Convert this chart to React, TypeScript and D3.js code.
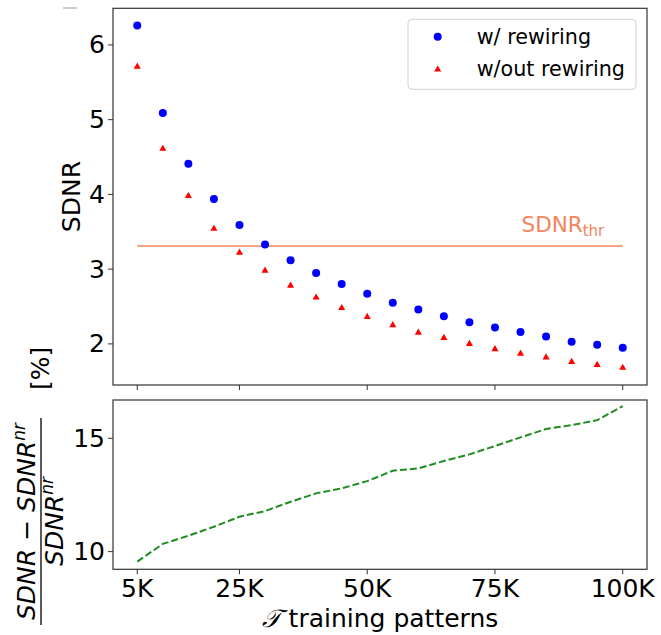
import React from "react";
import * as d3 from "d3";

const patterns = [5000, 10000, 15000, 20000, 25000, 30000, 35000, 40000, 45000, 50000, 55000, 60000, 65000, 70000, 75000, 80000, 85000, 90000, 95000, 100000];
const withRewiring = [6.26, 5.09, 4.41, 3.94, 3.59, 3.33, 3.12, 2.95, 2.8, 2.67, 2.55, 2.46, 2.37, 2.29, 2.22, 2.16, 2.1, 2.03, 1.99, 1.95];
const withoutRewiring = [5.71, 4.61, 3.98, 3.54, 3.22, 2.98, 2.78, 2.62, 2.48, 2.36, 2.25, 2.15, 2.08, 2.0, 1.93, 1.87, 1.82, 1.76, 1.72, 1.68];
const relGain = [9.56, 10.34, 10.7, 11.1, 11.54, 11.79, 12.2, 12.57, 12.79, 13.11, 13.57, 13.67, 14.0, 14.29, 14.66, 15.04, 15.41, 15.58, 15.8, 16.42];
const sdnrThr = 3.31;
const xTicks = [5000, 25000, 50000, 75000, 100000];
const xTickLabels = ["5K", "25K", "50K", "75K", "100K"];
const topYTicks = [2, 3, 4, 5, 6];
const botYTicks = [10, 15];
const legendLabels = ["w/ rewiring", "w/out rewiring"];

const FONT = "DejaVu Sans, sans-serif";
const AX = "#333";

export default function App() {
  const x = d3.scaleLinear().domain([250, 104750]).range([113, 647]);
  const yTop = d3.scaleLinear().domain([1.45, 6.49]).range([385, 8.3]);
  const yBot = d3.scaleLinear().domain([9.22, 16.69]).range([569.3, 400]);

  const gainLine = d3
    .line<number>()
    .x((_, i) => x(patterns[i]))
    .y((d) => yBot(d));

  const tri = d3.symbol().type(d3.symbolTriangle).size(22)();

  const topL = 113, topR = 647, topT = 8.3, topB = 385;
  const botT = 400, botB = 569.3;

  return (
    <svg width={661} height={635} style={{ position: "absolute", left: 0, top: 0, background: "#fff" }} fontFamily={FONT}>
      <rect x={0} y={0} width={661} height={635} fill="#fff" />
      <line x1={63} x2={77} y1={8} y2={8} stroke="#bbb" strokeWidth={1.5} />

      {/* top panel */}
      <line x1={x(patterns[0])} x2={x(patterns[patterns.length - 1])} y1={yTop(sdnrThr)} y2={yTop(sdnrThr)} stroke="#f4845c" strokeWidth={1.6} />
      <text x={521.5} y={231.7} fontSize={21.5} fill="#f4845c">
        SDNR<tspan fontSize={15} dy={4}>thr</tspan>
      </text>
      {withRewiring.map((v, i) => (
        <circle key={"b" + i} cx={x(patterns[i])} cy={yTop(v)} r={4} fill="#0000ff" />
      ))}
      {withoutRewiring.map((v, i) => (
        <path key={"r" + i} d={tri} transform={`translate(${x(patterns[i])},${yTop(v)})`} fill="#ff0000" />
      ))}
      <rect x={topL} y={topT} width={topR - topL} height={topB - topT} fill="none" stroke={AX} strokeWidth={1.2} />
      {topYTicks.map((t) => (
        <g key={"ty" + t}>
          <line x1={topL - 5} x2={topL} y1={yTop(t)} y2={yTop(t)} stroke={AX} strokeWidth={1} />
          <text x={topL - 8} y={yTop(t)} fontSize={25} textAnchor="end" dominantBaseline="central" fill="#000">{t}</text>
        </g>
      ))}
      {xTicks.map((t) => (
        <line key={"tx" + t} x1={x(t)} x2={x(t)} y1={topB} y2={topB + 5} stroke={AX} strokeWidth={1} />
      ))}
      <text transform={`translate(80,196.6) rotate(-90)`} fontSize={25} textAnchor="middle" fill="#000">SDNR</text>

      {/* legend */}
      <rect x={408} y={19.3} width={228} height={70} rx={4} fill="#fff" fillOpacity={0.8} stroke="#d0d0d0" strokeWidth={1} />
      <circle cx={437.7} cy={36.7} r={4} fill="#0000ff" />
      <path d={tri} transform="translate(437.7,69.5)" fill="#ff0000" />
      <text x={476.7} y={43.5} fontSize={20.7} fill="#000">{legendLabels[0]}</text>
      <text x={476.7} y={76} fontSize={20.7} fill="#000">{legendLabels[1]}</text>

      {/* bottom panel */}
      <path d={gainLine(relGain) || ""} fill="none" stroke="#1e8c1e" strokeWidth={2} strokeDasharray="7,3" />
      <rect x={topL} y={botT} width={topR - topL} height={botB - botT} fill="none" stroke={AX} strokeWidth={1.2} />
      {botYTicks.map((t) => (
        <g key={"by" + t}>
          <line x1={topL - 5} x2={topL} y1={yBot(t)} y2={yBot(t)} stroke={AX} strokeWidth={1} />
          <text x={topL - 8} y={yBot(t)} fontSize={25} textAnchor="end" dominantBaseline="central" fill="#000">{t}</text>
        </g>
      ))}
      {xTicks.map((t, i) => (
        <g key={"bx" + t}>
          <line x1={x(t)} x2={x(t)} y1={botB} y2={botB + 5} stroke={AX} strokeWidth={1} />
          <text x={x(t)} y={597} fontSize={25} textAnchor="middle" fill="#000">{xTickLabels[i]}</text>
        </g>
      ))}
      <text x={380} y={627} fontSize={25} textAnchor="middle" fill="#000">
        <tspan fontStyle="italic" fontFamily="DejaVu Serif, serif">𝒯</tspan> training patterns
      </text>

      {/* bottom y label (rotated fraction) */}
      <g transform="translate(41,484) rotate(-90)">
        <text x={-37.5} y={-6} fontSize={25} textAnchor="middle" fill="#000">
          <tspan fontStyle="italic">SDNR</tspan>
          <tspan> − </tspan>
          <tspan fontStyle="italic">SDNR</tspan>
          <tspan fontStyle="italic" fontSize={17} dy={-10}>nr</tspan>
        </text>
        <line x1={-141} x2={66} y1={0} y2={0} stroke="#000" strokeWidth={1.3} />
        <text x={-37.5} y={22} fontSize={25} textAnchor="middle" fill="#000">
          <tspan fontStyle="italic">SDNR</tspan>
          <tspan fontStyle="italic" fontSize={17} dy={-10}>nr</tspan>
        </text>
        <text x={94} y={8} fontSize={25} fill="#000">[%]</text>
      </g>
    </svg>
  );
}
